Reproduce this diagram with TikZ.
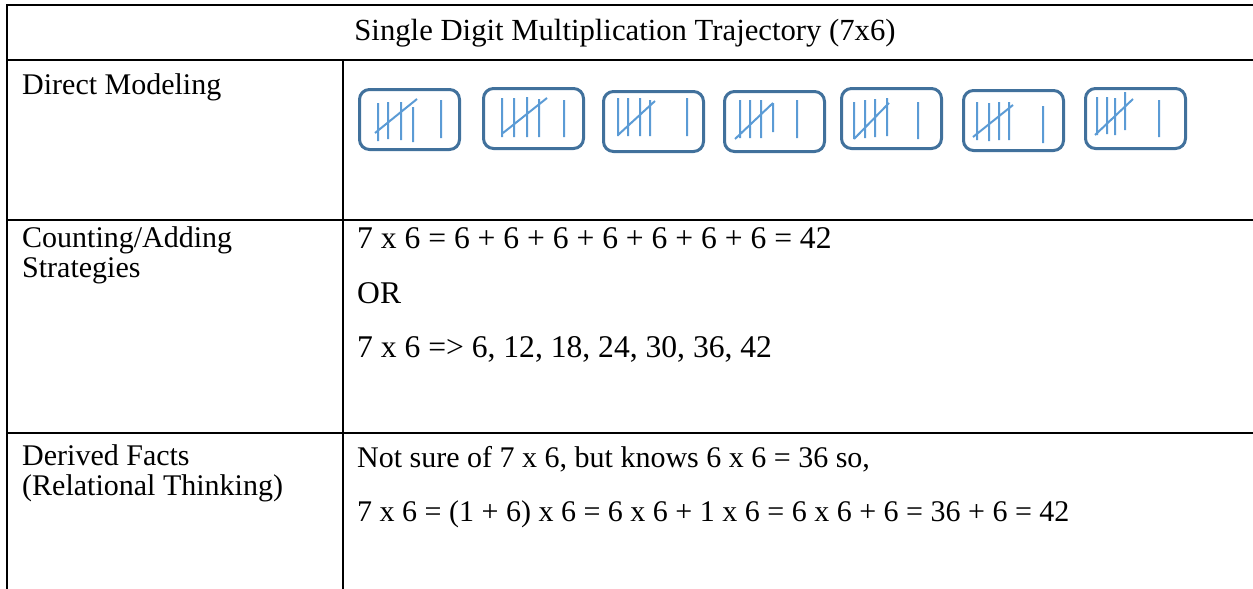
\documentclass[tikz,border=0pt]{standalone}
\usepackage{fontspec}
\setmainfont{Liberation Serif}
\definecolor{boxblue}{HTML}{41719C}
\definecolor{tallyblue}{HTML}{5B9BD5}
\begin{document}
\begin{tikzpicture}[x=1pt,y=-1pt,
  rule/.style={line width=2pt,black},
  txt/.style={anchor=base west,inner sep=0pt,font=\fontsize{30}{32}\selectfont},
  bigtxt/.style={txt,font=\fontsize{31.6}{33}\selectfont},
  tbox/.style={draw=boxblue,line width=3pt,rounded corners=10pt,minimum width=100pt,minimum height=60pt,inner sep=0pt,anchor=north west},
  tally/.style={draw=tallyblue,line width=2pt}]
\useasboundingbox (0,0) rectangle (1253,589);
% table rules
\draw[rule] (7,5) -- (1253,5);
\draw[rule] (7,60) -- (1253,60);
\draw[rule] (7,220) -- (1253,220);
\draw[rule] (7,433) -- (1253,433);
\draw[rule] (7,4) -- (7,589);
\draw[rule] (343,60) -- (343,589);
% texts
\node[txt,anchor=base,font=\fontsize{30.7}{32}\selectfont] (title) at (625,40) {Single Digit Multiplication Trajectory (7x6)};
\node[txt] (dm) at (22,94) {Direct Modeling};
\node[txt] (ca1) at (22,247) {Counting/Adding};
\node[txt] (ca2) at (22,277) {Strategies};
\node[txt] (df1) at (22,465) {Derived Facts};
\node[txt] (df2) at (22,495) {(Relational Thinking)};
\node[bigtxt] (r1) at (357,248) {7 x 6 = 6 + 6 + 6 + 6 + 6 + 6 + 6 = 42};
\node[bigtxt] (r2) at (357,303) {OR};
\node[bigtxt] (r3) at (357,357) {7 x 6 => 6, 12, 18, 24, 30, 36, 42};
\node[txt] (n1) at (357,467) {Not sure of 7 x 6, but knows 6 x 6 = 36 so,};
\node[txt] (n2) at (357,521) {7 x 6 = (1 + 6) x 6 = 6 x 6 + 1 x 6 = 6 x 6 + 6 = 36 + 6 = 42};
% tally boxes
\node[tbox] (b1) at (358,88) {};
\node[tbox] (b2) at (482,87) {};
\node[tbox] (b3) at (602,90) {};
\node[tbox] (b4) at (723,90) {};
\node[tbox] (b5) at (840,87) {};
\node[tbox] (b6) at (962,89) {};
\node[tbox] (b7) at (1084,87) {};
% box 1
\draw[tally] (378,103) -- (378,141) (388,102) -- (388,139) (401,102) -- (401,140) (413,107) -- (413,142)
  (375,133) -- (417,99) (441,100) -- (441,138);
% box 2
\draw[tally] (502,98) -- (502,137) (514,98) -- (514,137) (527,97) -- (527,137) (539,99) -- (539,137)
  (503,133) -- (547,98) (564,100) -- (564,137);
% box 3
\draw[tally] (618,98) -- (618,136) (628,98) -- (628,136) (640,98) -- (640,136) (650,100) -- (650,136)
  (618,135) -- (655,101) (687,98) -- (687,136);
% box 4
\draw[tally] (740,100) -- (740,138) (750,100) -- (750,138) (761,100) -- (761,138) (773,103) -- (773,132)
  (735,139) -- (773,103) (797,100) -- (797,138);
% box 5
\draw[tally] (854,102) -- (854,139) (865,100) -- (865,138) (875,99) -- (875,137) (887,98) -- (887,136)
  (854,139) -- (889,103) (918,102) -- (918,139);
% box 6
\draw[tally] (977,102) -- (977,140) (989,103) -- (989,141) (999,102) -- (999,140) (1009,102) -- (1009,140)
  (973,137) -- (1013,105) (1043,106) -- (1043,143);
% box 7
\draw[tally] (1097,97) -- (1097,135) (1107,97) -- (1107,134) (1115,98) -- (1115,135) (1125,92) -- (1125,130)
  (1095,135) -- (1133,99) (1159,100) -- (1159,137);
\end{tikzpicture}
\end{document}
